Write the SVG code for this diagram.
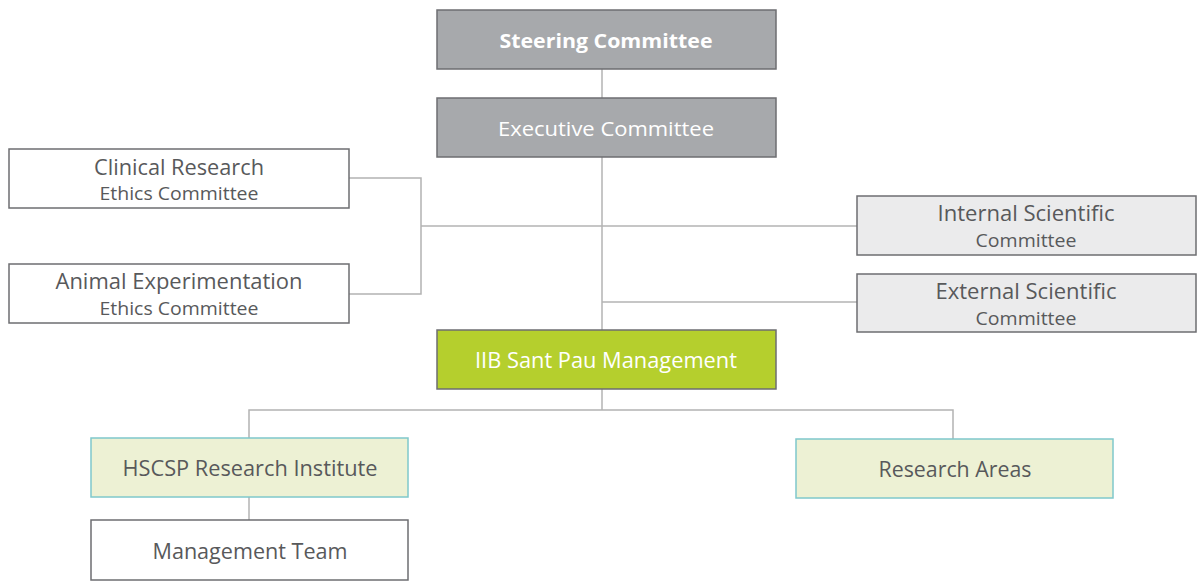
<svg xmlns="http://www.w3.org/2000/svg" width="1200" height="584" viewBox="0 0 1200 584">
<style>
rect{stroke-width:1.5}
.dark{fill:#a7a9ac;stroke:#6d6e71}
.white{fill:#ffffff;stroke:#6d6e71}
.light{fill:#ebebec;stroke:#6d6e71}
.green{fill:#b5cf2d;stroke:#6d6e71}
.pale{fill:#edf1d4;stroke:#7fc8cb}
text{font-family:"Open Sans","Liberation Sans",sans-serif;text-anchor:middle;fill:#58595b}
.w{fill:#ffffff}
.b{font-weight:bold}
.l1{font-size:21px}
.l2{font-size:18px}
#connectors path{fill:none;stroke:#b3b3b3;stroke-width:1.5}
</style>
<rect width="1200" height="584" fill="#ffffff"/>
<g id="connectors">
<path d="M602 69V98"/>
<path d="M602 157V330"/>
<path d="M421 226H857"/>
<path d="M349 178H421V294H349"/>
<path d="M602 302H857"/>
<path d="M602 389V410"/>
<path d="M249 438V410H953V439"/>
<path d="M249 497V520"/>
</g>
<g id="steering"><rect class="dark" x="437" y="10" width="339" height="59"/><text class="w b" x="606" y="48" font-size="20" textLength="213" lengthAdjust="spacingAndGlyphs">Steering Committee</text></g>
<g id="executive"><rect class="dark" x="437" y="98" width="339" height="59"/><text class="w" x="606" y="136" font-size="20" textLength="216" lengthAdjust="spacingAndGlyphs">Executive Committee</text></g>
<g id="clinical"><rect class="white" x="9" y="149" width="340" height="59"/><text class="l1" x="179" y="175" textLength="170" lengthAdjust="spacingAndGlyphs">Clinical Research</text><text class="l2" x="179" y="200" textLength="159" lengthAdjust="spacingAndGlyphs">Ethics Committee</text></g>
<g id="animal"><rect class="white" x="9" y="264" width="340" height="59"/><text class="l1" x="179" y="289" textLength="247" lengthAdjust="spacingAndGlyphs">Animal Experimentation</text><text class="l2" x="179" y="315" textLength="159" lengthAdjust="spacingAndGlyphs">Ethics Committee</text></g>
<g id="internal"><rect class="light" x="857" y="196" width="339" height="59"/><text class="l1" x="1026" y="221" textLength="177" lengthAdjust="spacingAndGlyphs">Internal Scientific</text><text class="l2" x="1026" y="247" textLength="101" lengthAdjust="spacingAndGlyphs">Committee</text></g>
<g id="external"><rect class="light" x="857" y="274" width="339" height="58"/><text class="l1" x="1026" y="299" textLength="181" lengthAdjust="spacingAndGlyphs">External Scientific</text><text class="l2" x="1026" y="325" textLength="101" lengthAdjust="spacingAndGlyphs">Committee</text></g>
<g id="management"><rect class="green" x="437" y="330" width="339" height="59"/><text class="w l1" x="606" y="368" textLength="262" lengthAdjust="spacingAndGlyphs">IIB Sant Pau Management</text></g>
<g id="hscsp"><rect class="pale" x="91" y="438" width="317" height="59"/><text class="l1" x="250" y="476" textLength="255" lengthAdjust="spacingAndGlyphs">HSCSP Research Institute</text></g>
<g id="areas"><rect class="pale" x="796" y="439" width="317" height="59"/><text class="l1" x="955" y="477" textLength="153" lengthAdjust="spacingAndGlyphs">Research Areas</text></g>
<g id="team"><rect class="white" x="91" y="520" width="317" height="60"/><text class="l1" x="250" y="559" textLength="195" lengthAdjust="spacingAndGlyphs">Management Team</text></g>
</svg>
